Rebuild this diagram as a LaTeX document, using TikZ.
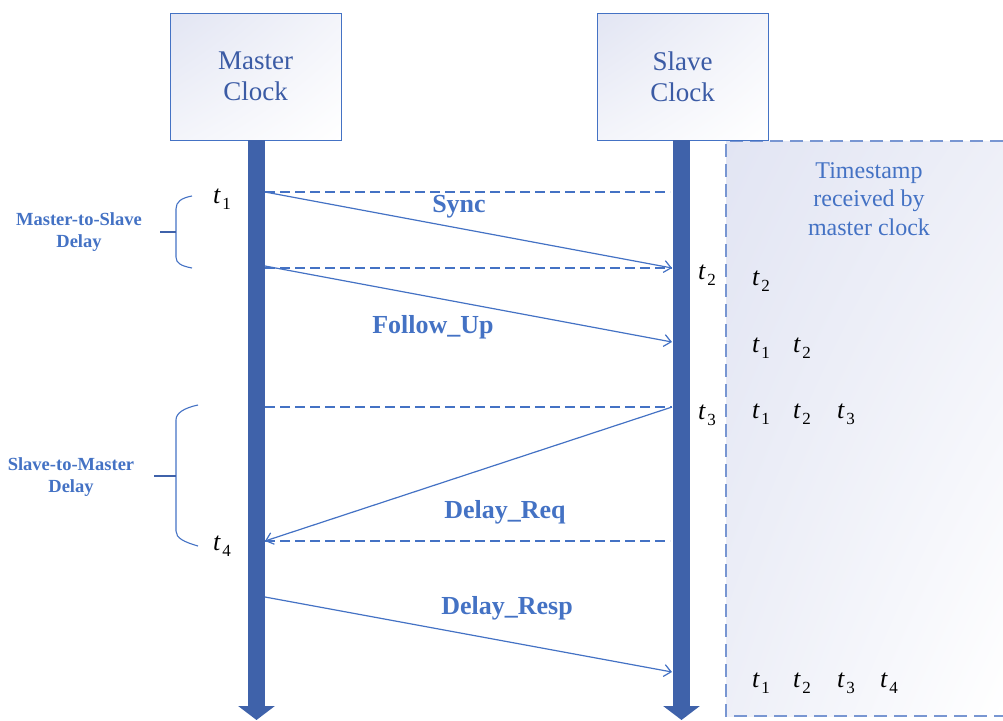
\documentclass[tikz,border=0pt]{standalone}
\usepackage{fontspec}
\setmainfont{Liberation Serif}
\usetikzlibrary{arrows.meta,shadings}
\definecolor{bar}{RGB}{63,98,170}
\definecolor{ln}{RGB}{68,114,196}
\definecolor{lav}{RGB}{226,229,243}
\definecolor{txt}{RGB}{59,91,165}
\definecolor{dsh}{RGB}{120,150,210}
\newcommand{\tsub}[1]{{\fontsize{26}{26}\selectfont\itshape t}\hspace{2pt}\raisebox{-6pt}{\fontsize{17}{17}\selectfont #1}}
\tikzset{
  clockbox/.style={draw=ln, line width=0.9pt, upper left=lav, upper right=white!60!lav, lower left=white!60!lav, lower right=white,
    minimum width=171pt, minimum height=127pt, inner sep=0pt, align=center, text=txt,
    font=\fontsize{27}{31}\selectfont},
  lifeline/.style={draw=bar, line width=17pt, -{Triangle[width=36pt,length=14pt]}},
  msg/.style={draw=ln, line width=1.2pt, -{Straight Barb[length=7pt,width=12pt]}},
  guide/.style={draw=ln, line width=1.2pt, dash pattern=on 10pt off 5pt},
  msglabel/.style={text=ln, font=\bfseries\fontsize{26}{26}\selectfont},
  delaylabel/.style={text=ln, font=\bfseries\fontsize{18.5}{21.5}\selectfont, align=center},
  brace/.style={draw=ln, line width=1.1pt},
  tick/.style={draw=bar, line width=1.6pt},
  tlab/.style={anchor=base west, inner sep=0pt},
}
\begin{document}
\begin{tikzpicture}[x=1pt,y=-1pt]
\useasboundingbox (0,0) rectangle (1003,720);
% timestamp area
\shade[upper left=lav, upper right=white!40!lav, lower left=white!40!lav, lower right=white] (726,141) rectangle (1003,716);
\draw[dsh, line width=1.5pt, dash pattern=on 13pt off 7pt] (1003,141) -- (726,141) -- (726,716) -- (1003,716);
\node[text=ln, align=center, font=\fontsize{24}{28.5}\selectfont] (tsh) at (869,199) {Timestamp\\received by\\master clock};

% clocks
\node[clockbox] (master) at (255.5,76.5) {Master\\Clock};
\node[clockbox] (slave) at (682.5,76.5) {Slave\\Clock};
\coordinate (mend) at (256.5,720);
\coordinate (send) at (681.5,720);
\draw[lifeline] (master.south -| mend) -- (mend);
\draw[lifeline] (slave.south -| send) -- (send);

% message points
\coordinate (m1) at (265,192);  \coordinate (s1) at (670,192);
\coordinate (m2) at (265,268);  \coordinate (s2) at (672,268);
\coordinate (m3) at (265,266);  \coordinate (s3) at (672,342);
\coordinate (m4) at (265,407);  \coordinate (s4) at (672,407);
\coordinate (m5) at (265,541);  \coordinate (s5) at (670,541);
\coordinate (m6) at (265,597);  \coordinate (s6) at (672,672);

\draw[guide] (m1) -- (s1);
\draw[guide] (m2) -- (s2);
\draw[guide] (m4) -- (s4);
\draw[guide] (m5) -- (s5);
\draw[msg] (m1) -- (s2);
\draw[msg] (m3) -- (s3);
\draw[msg] (s4) -- (m5);
\draw[msg] (m6) -- (s6);

\node[msglabel] (sync) at (459,207) {Sync};
\node[msglabel] (fup) at (433,327) {Follow\_Up};
\node[msglabel] (dreq) at (505,512) {Delay\_Req};
\node[msglabel] (dresp) at (507,608) {Delay\_Resp};

% time labels
\node[tlab] (t1) at (213,203) {\tsub{1}};
\node[tlab] (t4) at (213,550) {\tsub{4}};
\node[tlab] (t2) at (698,279) {\tsub{2}};
\node[tlab] (t3) at (698,419) {\tsub{3}};

\node[tlab] (a2) at (752,285) {\tsub{2}};
\node[tlab] (b1) at (752,352) {\tsub{1}};
\node[tlab] (b2) at (793,352) {\tsub{2}};
\node[tlab] (c1) at (752,418) {\tsub{1}};
\node[tlab] (c2) at (793,418) {\tsub{2}};
\node[tlab] (c3) at (837,418) {\tsub{3}};
\node[tlab] (d1) at (752,687) {\tsub{1}};
\node[tlab] (d2) at (793,687) {\tsub{2}};
\node[tlab] (d3) at (837,687) {\tsub{3}};
\node[tlab] (d4) at (880,687) {\tsub{4}};

% braces
\draw[brace] (192,196) .. controls (181,198) and (176,202) .. (176,209) -- (176,257) .. controls (176,263) and (181,266) .. (192,268);
\draw[tick] (160,232) -- (176,232);
\node[delaylabel] (msd) at (79,232) {Master-to-Slave\\Delay};
\draw[brace] (198,405) .. controls (184,408) and (176,413) .. (176,420) -- (176,531) .. controls (176,538) and (184,542) .. (198,546);
\draw[tick] (154,476) -- (176,476);
\node[delaylabel] (smd) at (71,477) {Slave-to-Master\\Delay};
\end{tikzpicture}
\end{document}
